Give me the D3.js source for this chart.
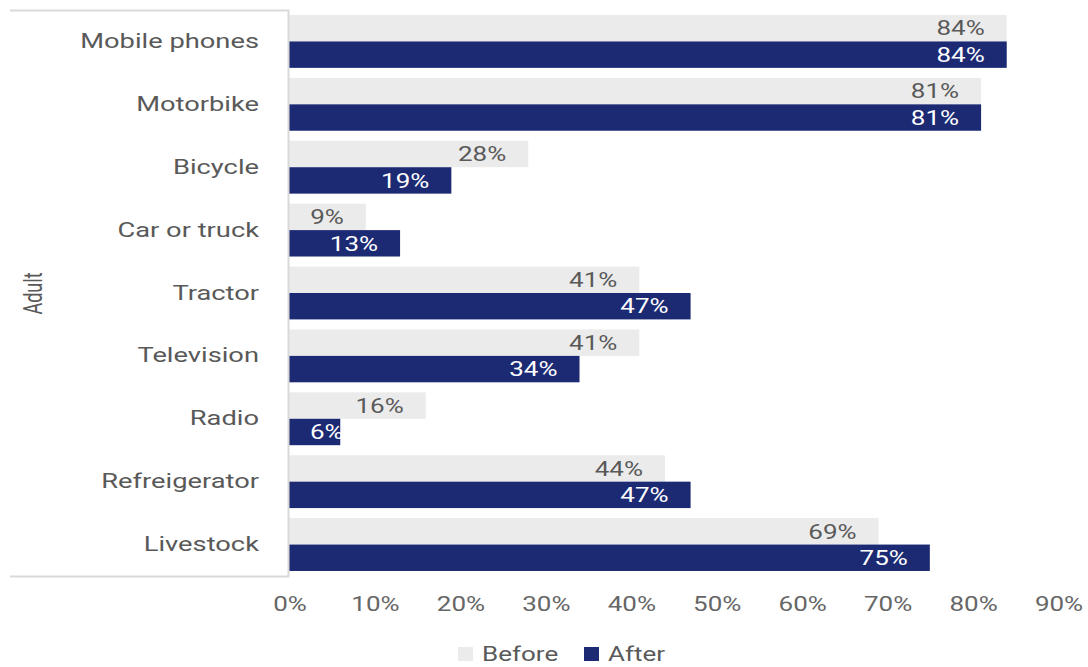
<!DOCTYPE html>
<html>
<head>
<meta charset="utf-8">
<script src="https://cdn.jsdelivr.net/npm/d3@7"></script>
<style>
  body { margin: 0; background: #fff; }
  text { font-family: Roboto, "Noto Sans", sans-serif; }
</style>
</head>
<body>
<div id="chart"></div>
<script>
// data
const categories = ["Mobile phones", "Motorbike", "Bicycle", "Car or truck", "Tractor",
                    "Television", "Radio", "Refreigerator", "Livestock"];
const before = [84, 81, 28, 9, 41, 41, 16, 44, 69];
const after = [84, 81, 19, 13, 47, 34, 6, 47, 75];
const ticks = [0, 10, 20, 30, 40, 50, 60, 70, 80, 90];
const seriesNames = ["Before", "After"];
const groupLabel = "Adult";

const width = 1088, height = 667;
const colors = { Before: "#ebebeb", After: "#1c2a74" };
const stretch = 1.3; // the source picture has wide-looking text

const svg = d3.select("#chart")
    .append("svg")
    .attr("width", width)
    .attr("height", height);

// scales
const x = d3.scaleLinear().domain([0, 90]).range([289, 1058]);
const y = d3.scaleBand().domain(categories).range([10, 576])
    .paddingInner(0.16).paddingOuter(0.08);
const sub = d3.scaleBand().domain(seriesNames).range([0, y.bandwidth()]);

const rows = categories.map((c, i) => ({ cat: c, Before: before[i], After: after[i] }));

// bars + value labels
const g = svg.append("g");
seriesNames.forEach(s => {
    g.selectAll(".bar-" + s)
        .data(rows)
        .enter()
        .append("rect")
        .attr("x", x(0))
        .attr("y", d => y(d.cat) + sub(s))
        .attr("width", d => x(d[s]) - x(0))
        .attr("height", sub.bandwidth())
        .attr("fill", colors[s]);

    g.selectAll(".lbl-" + s)
        .data(rows)
        .enter()
        .append("text")
        .attr("text-anchor", "end")
        .attr("dy", "0.36em")
        .attr("font-size", 20)
        .attr("fill", s === "Before" ? "#595959" : "#ffffff")
        .text(d => d[s] + "%")
        .attr("transform", function(d) {
            const w = this.getComputedTextLength() * stretch;
            const end = Math.max(x(d[s]) - 22, x(0) + 21 + w);
            const cy = y(d.cat) + sub(s) + sub.bandwidth() / 2;
            return `translate(${end},${cy}) scale(${stretch},1)`;
        });
});

// frame around the category labels
svg.append("path")
    .attr("d", "M10,10.5H288.5V576.5H10")
    .attr("fill", "none")
    .attr("stroke", "#d9d9d9")
    .attr("stroke-width", 2);

// category labels
svg.selectAll(".cat")
    .data(categories)
    .enter()
    .append("text")
    .attr("transform", d => `translate(259,${y(d) + y.bandwidth() / 2 - 1}) scale(${stretch},1)`)
    .attr("dy", "0.36em")
    .attr("text-anchor", "end")
    .attr("font-size", 21)
    .attr("fill", "#595959")
    .text(d => d);

svg.append("text")
    .attr("transform", "translate(42,293.5) rotate(-90) scale(0.86,1.25)")
    .attr("text-anchor", "middle")
    .attr("font-size", 21)
    .attr("fill", "#595959")
    .text(groupLabel);

// x axis tick labels
svg.selectAll(".tick")
    .data(ticks)
    .enter()
    .append("text")
    .attr("transform", d => `translate(${x(d) + 1},604) scale(${stretch},1)`)
    .attr("dy", "0.36em")
    .attr("text-anchor", "middle")
    .attr("font-size", 20)
    .attr("fill", "#666666")
    .text(d => d + "%");

// legend
const legend = svg.append("g");
const legendX = [458, 584];
seriesNames.forEach((s, i) => {
    legend.append("rect")
        .attr("x", legendX[i])
        .attr("y", 647)
        .attr("width", 15)
        .attr("height", 14)
        .attr("fill", colors[s]);
    legend.append("text")
        .attr("transform", `translate(${legendX[i] + 24},654) scale(${stretch},1)`)
        .attr("dy", "0.36em")
        .attr("font-size", 20)
        .attr("fill", "#595959")
        .text(s);
});
</script>
</body>
</html>
